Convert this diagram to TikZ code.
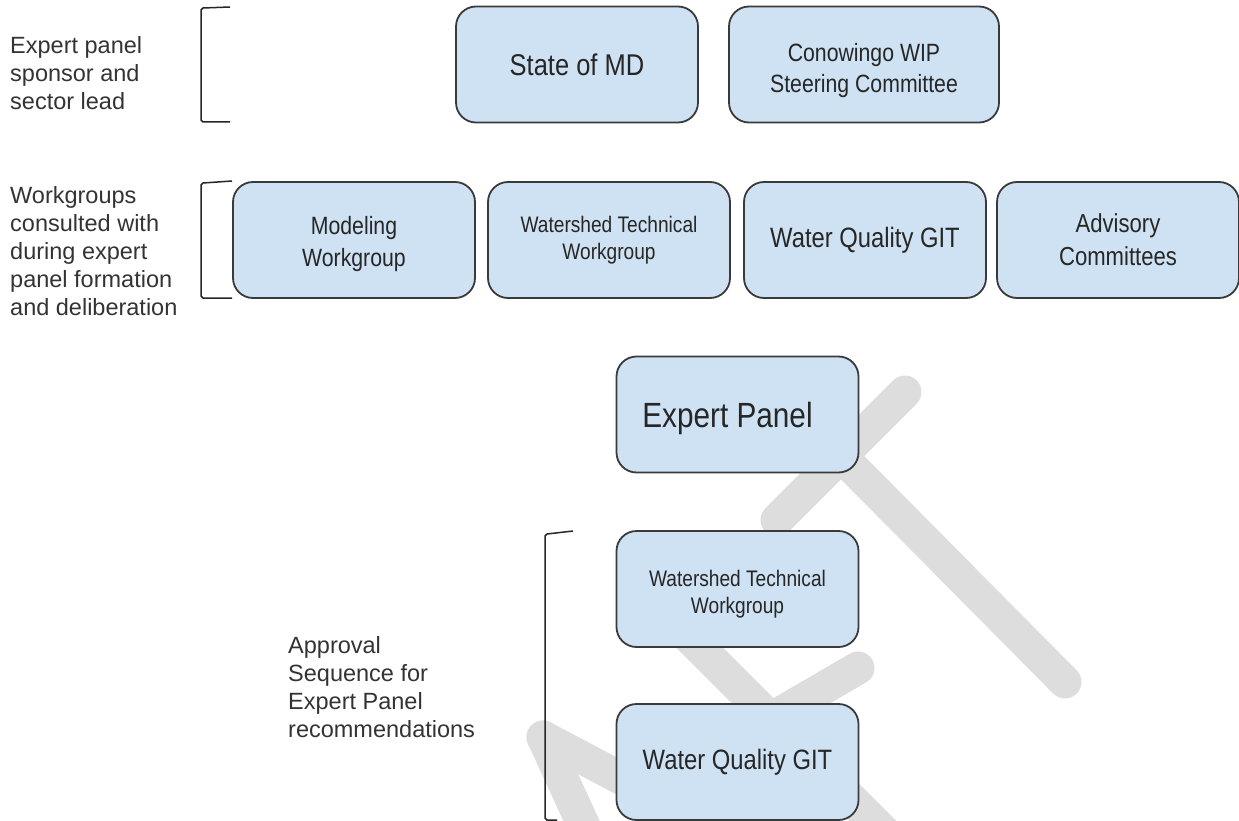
\documentclass[tikz,border=0pt]{standalone}
\usepackage{fontspec}
\setmainfont{Liberation Sans}
\newfontfamily\narrowsans[FakeStretch=0.85]{Liberation Sans}
\definecolor{boxblue}{HTML}{CFE2F3}
\definecolor{boxline}{HTML}{3A3A3A}
\definecolor{wmgray}{HTML}{DDDDDD}
\tikzset{
  grp/.style={draw=boxline, line width=1.8pt, fill=boxblue, rounded corners=20pt,
    minimum width=242pt, minimum height=116pt, inner sep=0pt, align=center, text=black!85},
  side/.style={anchor=north west, inner sep=0pt, align=left,
    font=\fontsize{23.5}{28}\selectfont, text=black!80},
  wm/.style={wmgray, line width=33pt, line cap=round},
  brk/.style={line width=1.5pt, black!85}
}

\begin{document}
\begin{tikzpicture}[x=1pt, y=-1pt]
\useasboundingbox (0,0) rectangle (1239,821);
% watermark strokes behind everything
\begin{scope}
\clip (0,0) rectangle (1239,821);
\draw[wm] (905,392) -- (777,520);
\draw[wm] (841,456) -- (1065,682);
\draw[wm] (660,608) -- (890,838);
\draw[wm] (858,668) -- (760,725);
\draw[wm] (543,737) -- (588,835);
\draw[wm] (543,737) -- (700,820);
\end{scope}
% side labels and brackets
\node[side] (l1) at (10,36) {Expert panel\\sponsor and\\sector lead};
\node[side] (l2) at (10,186) {Workgroups\\consulted with\\during expert\\panel formation\\and deliberation};
\node[side] (l3) at (288,636) {Approval\\Sequence for\\Expert Panel\\recommendations};
\draw[brk] (230,7) -- (203,8) -- (201,10) -- (201,120) -- (203,122) -- (230,122);
\draw[brk] (232,181) -- (203,183) -- (201,185) -- (201,296) -- (203,298) -- (232,298);
\draw[brk] (573,531) -- (547,534) -- (545,536) -- (545,818) -- (547,820) -- (557,820);
% boxes
\node[grp, font=\narrowsans\fontsize{30}{36}\selectfont] (md) at (577,64.5) {State of MD};
\node[grp, minimum width=270pt, font=\narrowsans\fontsize{25}{31}\selectfont] (wip) at (864,64.5) {\rule{0pt}{30pt}Conowingo WIP\\Steering Committee};
\node[grp, font=\narrowsans\fontsize{25}{32}\selectfont] (mod) at (354,240) {\rule{0pt}{26pt}Modeling\\Workgroup};
\node[grp, font=\narrowsans\fontsize{22.5}{27}\selectfont] (wtw) at (609,240) {Watershed Technical\\Workgroup};
\node[grp, font=\narrowsans\fontsize{28}{34}\selectfont] (wq) at (865,240) {Water Quality GIT};
\node[grp, font=\narrowsans\fontsize{26}{33}\selectfont] (adv) at (1118,240) {Advisory\\Committees};
\node[grp, font=\narrowsans\fontsize{35}{42}\selectfont] (ep) at (737.5,414.5) {\rule{0pt}{34pt}Expert Panel\hspace{20pt}};
\node[grp, font=\narrowsans\fontsize{22.5}{27}\selectfont] (wtw2) at (737.5,589) {\rule{0pt}{26pt}Watershed Technical\\Workgroup};
\node[grp, font=\narrowsans\fontsize{28}{34}\selectfont] (wq2) at (737.5,762) {Water Quality GIT};
\end{tikzpicture}
\end{document}
